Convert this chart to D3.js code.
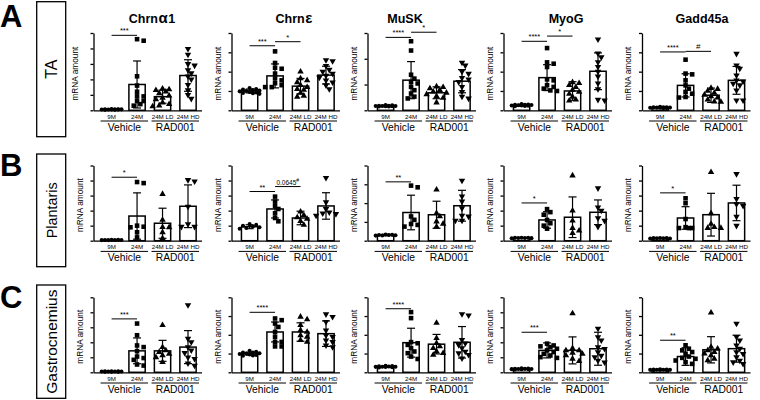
<!DOCTYPE html>
<html><head><meta charset="utf-8">
<script src="https://cdn.jsdelivr.net/npm/d3@7"></script>
<style>
body{margin:0;background:#fff}
svg{display:block}
text{font-family:"Liberation Sans",Arial,sans-serif;fill:#000}
</style>
</head><body>
<svg id="c" width="760" height="400"></svg>
<script>
// ---------- data ----------
const panelLetters = ["A","B","C"];
const tissues = ["TA","Plantaris","Gastrocnemius"];
const genes = ["Chrn|α|1","Chrn|ε|","MuSK","MyoG","Gadd45a"];
const groups = ["9M","24M","24M LD","24M HD"];
const treatments = ["Vehicle","RAD001"];

const yMaxTA = [5,4,3,4,4];
const yMaxPlantaris = [5,5,4,5,5];
const yMaxGastro = [5,4,4,5,4];

const meanTA = [[0.06,1.67,0.88,2.25],[1.0,1.78,1.25,1.82],[0.17,1.17,0.68,1.13],[0.26,1.69,1.0,2.02],[0.14,1.29,0.78,1.55]];
const sdTA   = [[0.02,1.52,0.42,1.02],[0.1,0.62,0.4,0.46],[0.03,0.72,0.23,0.45],[0.05,0.67,0.48,0.95],[0.03,0.6,0.37,0.72]];
const ptsTA = [
 [[0.04,0.05,0.06,0.05,0.07,0.04,0.06,0.05,0.08,0.05,0.06],[4.6,4.5,2.2,1.6,1.2,0.9,0.9,0.6,0.6,0.4,0.3],[1.4,1.35,1.3,1.2,1.1,0.95,0.8,0.7,0.5,0.4,0.3,0.25],[3.98,3.6,3.0,2.9,2.6,2.4,2.2,2.0,1.65,1.3,1.0,0.75]],
 [[1.15,1.1,1.08,1.05,1.02,1.0,0.98,0.95,0.92,0.9,0.88,0.85],[3.05,2.45,2.2,2.15,1.9,1.65,1.55,1.4,1.3,1.2,1.2],[2.0,1.65,1.55,1.45,1.3,1.2,1.1,1.05,0.9,0.75,0.7],[2.6,2.55,2.3,2.1,2.0,1.9,1.8,1.7,1.55,1.45,1.3,1.1]],
 [[0.2,0.19,0.18,0.17,0.17,0.16,0.15,0.18,0.16,0.17,0.15],[2.68,2.32,1.38,1.23,1.1,1.04,0.91,0.78,0.65,0.53,0.46],[0.92,0.9,0.85,0.78,0.72,0.68,0.62,0.55,0.48,0.3],[1.85,1.74,1.5,1.42,1.26,1.2,1.1,0.91,0.72,0.53,0.46]],
 [[0.33,0.3,0.28,0.27,0.26,0.25,0.24,0.22,0.21,0.28,0.25],[3.22,2.48,2.41,2.24,1.6,1.3,1.55,1.21,1.12,1.03,1.0],[1.45,1.4,1.3,1.2,1.05,0.95,0.85,0.7,0.55,0.5],[3.67,2.95,2.75,2.5,2.25,2.0,1.75,1.4,1.1,0.55,0.52]],
 [[0.18,0.16,0.15,0.14,0.14,0.13,0.12,0.11,0.15,0.13],[2.62,1.9,1.86,1.55,1.29,1.12,0.95,0.86,0.69,0.66],[1.15,1.1,1.0,0.9,0.8,0.72,0.65,0.55,0.45,0.43],[2.93,2.33,2.16,1.81,1.55,1.5,1.38,1.3,1.03,0.52,0.52]]
];
const sigTA = [
 [[0,1,4.85,"***"]],
 [[0,1,3.34,"***"],[1,2,3.55,"*"]],
 [[0,1,2.83,"****"],[1,2,3.03,"*"]],
 [[0,1,3.57,"****"],[1,2,3.84,"*"]],
 [[0,1,3.02,"****"],[1,2,3.05,"#"]]
];

const meanPlantaris = [[0.05,1.64,1.16,2.29],[0.93,2.11,1.51,2.31],[0.3,1.5,1.38,1.86],[0.18,1.38,1.56,1.89],[0.16,1.51,1.73,2.51]];
const sdPlantaris   = [[0.02,1.54,1.0,1.42],[0.13,0.6,0.45,0.88],[0.04,0.92,0.72,0.82],[0.03,0.55,1.35,0.82],[0.03,0.75,1.42,1.18]];
const ptsPlantaris = [
 [[0.04,0.05,0.06,0.05,0.04,0.06,0.05],[3.9,3.83,1.0,0.93,0.89,0.56,0.22],[3.1,1.38,0.9,0.89,0.56,0.16],[4.04,3.95,2.27,1.11,0.93,0.93]],
 [[1.1,1.05,1.0,0.95,0.9,0.85,0.8],[2.93,2.6,2.3,2.11,1.82,1.51,1.29],[1.93,1.7,1.55,1.45,1.3,1.05],[4.18,2.56,2.11,1.89,1.82,1.78,1.67]],
 [[0.33,0.31,0.3,0.29,0.28,0.3,0.27],[2.93,2.84,1.29,1.11,0.89,0.84,0.75],[2.71,1.46,1.29,1.02,0.9,0.75],[3.2,2.36,2.09,1.73,1.34,1.29,1.07,1.07]],
 [[0.2,0.19,0.18,0.17,0.16,0.18,0.19],[2.1,1.9,1.73,1.38,1.16,1.0,0.8],[4.33,2.0,1.33,0.84,0.67,0.5],[3.49,2.22,2.0,1.51,1.33,0.93]],
 [[0.18,0.17,0.16,0.15,0.14,0.16,0.17],[2.82,2.49,1.44,0.9,0.84,0.84,0.84],[4.56,1.82,1.11,0.9,0.84,0.84],[4.44,2.78,2.44,2.33,1.6,1.0]]
];
const sigPlantaris = [
 [[0,1,4.22,"*"]],
 [[0,1,3.27,"**"],[1,2,3.6,"0.0645#"]],
 [[0,1,3.13,"**"]],
 [[0,1,2.51,"*"]],
 [[0,1,3.18,"*"]]
];

const meanGastro = [[0.05,1.43,1.43,1.68],[0.99,2.15,2.15,2.06],[0.3,1.58,1.5,1.6],[0.22,1.46,1.46,1.57],[0.13,0.84,1.2,1.26]];
const sdGastro   = [[0.02,0.86,0.7,1.1],[0.08,0.53,0.49,0.68],[0.04,0.77,0.52,0.84],[0.04,0.5,0.9,1.1],[0.03,0.47,0.7,0.72]];
const ptsGastro = [
 [[0.04,0.05,0.06,0.05,0.04,0.06,0.05,0.05,0.04,0.06],[3.25,2.47,1.79,1.68,1.41,1.05,0.95,0.83,0.52,0.45],[3.14,1.68,1.46,1.35,1.23,1.12,1.0,0.67],[4.48,2.24,2.02,1.68,1.46,1.3,1.0,0.9,0.6,0.45]],
 [[1.15,1.1,1.05,1.02,1.0,0.98,0.95,0.92,0.9,0.88,1.05],[2.87,2.78,2.6,2.42,2.15,1.89,1.62,1.62,1.38,1.38],[2.96,2.82,2.51,2.24,2.15,1.97,1.89,1.71,1.62],[3.1,2.96,2.69,2.24,1.97,1.89,1.71,1.62,1.44,1.35]],
 [[0.35,0.33,0.31,0.3,0.29,0.28,0.27,0.3,0.32,0.26],[3.21,2.89,1.61,1.55,1.46,1.29,1.11,1.02,0.84,0.71],[2.63,1.82,1.55,1.38,1.29,1.11,1.02,0.93],[3.11,3.04,1.73,1.55,1.46,1.29,1.11,1.02,0.93,0.75]],
 [[0.26,0.25,0.24,0.22,0.21,0.2,0.19,0.23,0.22,0.2],[1.91,1.79,1.73,1.68,1.57,1.46,1.35,1.23,1.12,1.01,0.96],[3.92,1.6,1.46,1.46,1.3,1.23,1.12,0.9,0.74],[2.91,2.35,2.13,1.68,1.57,1.35,1.12,1.01,0.78,0.67]],
 [[0.16,0.15,0.14,0.13,0.12,0.11,0.13,0.14,0.12,0.15],[1.44,1.26,1.17,1.08,0.99,0.84,0.77,0.72,0.63,0.54,0.45],[3.18,1.35,1.26,1.17,1.08,0.99,0.9,0.72,0.63],[2.6,1.89,1.71,1.44,1.26,1.08,0.99,0.81,0.63,0.54,0.45]]
];
const sigGastro = [
 [[0,1,3.56,"***"]],
 [[0,1,3.2,"****"]],
 [[0,1,3.39,"****"]],
 [[0,1,2.67,"***"]],
 [[0,1,1.71,"**"]]
];

// ---------- layout ----------
const svg = d3.select("#c");
const colX = [93.5,231.5,367.5,503.5,642];
const titleX = [152,294,405,566,702];
const rowTop = [33,165.5,297.3];
const rowBase = [110.3,240.7,372.3];
const boxTop = [1.7,154,285];
const boxBot = [136.7,266.7,398.3];
const letterY = [27,175.5,307.5];
const labelSize = [16,14.4,15.5];
const W = 108;

const rows = [
 {yMax:yMaxTA, mean:meanTA, sd:sdTA, pts:ptsTA, sig:sigTA},
 {yMax:yMaxPlantaris, mean:meanPlantaris, sd:sdPlantaris, pts:ptsPlantaris, sig:sigPlantaris},
 {yMax:yMaxGastro, mean:meanGastro, sd:sdGastro, pts:ptsGastro, sig:sigGastro}
];

const symTypes = [d3.symbolCircle,d3.symbolSquare,d3.symbolTriangle,d3.symbolTriangle];
const symSizes = [13,21,18,18];
const symRot = [0,0,0,180];

function swarm(vals, yS){
  const pts = vals.map(v=>({v,py:yS(v)})).sort((a,b)=>a.py-b.py);
  const placed=[]; const d=3.3, r=4.3;
  const offs=[0,d,-d,2*d,-2*d,3*d,-3*d];
  pts.forEach(p=>{
    let best=0,bestScore=-1;
    for(const o of offs){
      let minD=Infinity;
      placed.forEach(q=>{const dd=Math.hypot(q.dx-o,q.py-p.py); if(dd<minD)minD=dd;});
      if(minD>=r){best=o;break;}
      if(minD>bestScore){bestScore=minD;best=o;}
    }
    p.dx=best; placed.push(p);
  });
  return pts;
}

// left letters and boxes
tissues.forEach((t,r)=>{
  svg.append("text").attr("x",0).attr("y",letterY[r]).attr("font-size",31).attr("font-weight","bold").text(panelLetters[r]);
  svg.append("rect").attr("x",36.7).attr("y",boxTop[r]).attr("width",29).attr("height",boxBot[r]-boxTop[r])
    .attr("fill","none").attr("stroke","#000").attr("stroke-width",1.3);
  const cy=(boxTop[r]+boxBot[r])/2;
  svg.append("text").attr("transform",`translate(57,${cy}) rotate(-90)`).attr("text-anchor","middle")
    .attr("font-size",labelSize[r]).text(t);
});

// titles
genes.forEach((g,c)=>{
  const parts=g.split("|");
  const t=svg.append("text").attr("x",titleX[c]).attr("y",23).attr("text-anchor","middle")
    .attr("font-size",12.5).attr("font-weight","bold");
  t.append("tspan").text(parts[0]);
  if(parts.length>1){
    t.append("tspan").attr("dx",0.5).attr("font-size",15).text(parts[1]);
    t.append("tspan").attr("dx",0.5).text(parts[2]);
  }
});

rows.forEach((row,r)=>{
  genes.forEach((g,c)=>{
    const gx = svg.append("g").attr("transform",`translate(${colX[c]},0)`);
    const x = d3.scaleBand().domain(groups).range([0,W]).paddingInner(0.36).paddingOuter(0.3).align(0.65);
    const yMax=row.yMax[c];
    const y = d3.scaleLinear().domain([0,yMax]).range([rowBase[r],rowTop[r]]);
    const bw=x.bandwidth();
    const cx=k=>x(k)+bw/2;

    // bars
    groups.forEach((k,i)=>{
      const m=row.mean[c][i];
      gx.append("rect").attr("x",x(k)).attr("y",y(m)).attr("width",bw).attr("height",rowBase[r]-y(m))
        .attr("fill","#fff").attr("stroke","#000").attr("stroke-width",1.5);
    });
    // points
    groups.forEach((k,i)=>{
      const pts=swarm(row.pts[c][i],y);
      const sym=d3.symbol().type(symTypes[i]).size(symSizes[i]);
      gx.selectAll(null).data(pts).enter().append("path").attr("d",sym())
        .attr("transform",p=>`translate(${cx(k)+p.dx},${p.py}) rotate(${symRot[i]})`).attr("fill","#000");
    });
    // error bars
    groups.forEach((k,i)=>{
      const m=row.mean[c][i], s=row.sd[c][i];
      const hi=m+s, lo=Math.max(0,m-s);
      const xc=cx(k);
      gx.append("line").attr("x1",xc).attr("x2",xc).attr("y1",y(lo)).attr("y2",y(hi)).attr("stroke","#000").attr("stroke-width",1.2);
      [hi,lo].forEach(v=>gx.append("line").attr("x1",xc-4).attr("x2",xc+4).attr("y1",y(v)).attr("y2",y(v)).attr("stroke","#000").attr("stroke-width",1.2));
    });
    // axes
    const ya=gx.append("g").call(d3.axisLeft(y).tickValues(d3.range(0,yMax+1)).tickFormat("").tickSize(3).tickSizeOuter(0));
    ya.selectAll("path,line").attr("stroke","#000").attr("stroke-width",1.3);
    const xa=gx.append("g").attr("transform",`translate(0,${rowBase[r]})`)
      .call(d3.axisBottom(x).tickSize(0).tickPadding(4).tickSizeOuter(0));
    xa.select(".domain").attr("stroke","#000").attr("stroke-width",1.3);
    xa.selectAll("text").attr("font-size",6.2).attr("font-family","Liberation Sans, Arial, sans-serif").attr("fill","#000");
    // y label
    const off = (r===0&&c===0)?16:11;
    gx.append("text").attr("transform",`translate(${-off},${(rowTop[r]+rowBase[r])/2+2}) rotate(-90)`)
      .attr("text-anchor","middle").attr("font-size",8.3).text("mRNA amount");
    // group lines
    treatments.forEach((t,j)=>{
      const x1=cx(groups[2*j])-11, x2=cx(groups[2*j+1])+11;
      gx.append("line").attr("x1",x1).attr("x2",x2).attr("y1",rowBase[r]+10.7).attr("y2",rowBase[r]+10.7)
        .attr("stroke","#000").attr("stroke-width",1);
      gx.append("text").attr("x",(x1+x2)/2).attr("y",rowBase[r]+20.5).attr("text-anchor","middle")
        .attr("font-size",10.3).text(t);
    });
    // significance
    row.sig[c].forEach(([a,b,lv,lab])=>{
      const x1=cx(groups[a]), x2=cx(groups[b]), yy=y(lv);
      gx.append("line").attr("x1",x1).attr("x2",x2).attr("y1",yy).attr("y2",yy).attr("stroke","#000").attr("stroke-width",1);
      const t=gx.append("text").attr("x",(x1+x2)/2).attr("y",yy-2).attr("text-anchor","middle").attr("font-size",lab==="#"?8:7.5);
      if(lab.endsWith("#")&&lab.length>1){
        t.append("tspan").attr("font-size",6.5).text(lab.slice(0,-1));
        t.append("tspan").attr("font-size",5).attr("dy",-3).text("#");
      } else t.text(lab);
    });
  });
});
</script>
</body></html>
